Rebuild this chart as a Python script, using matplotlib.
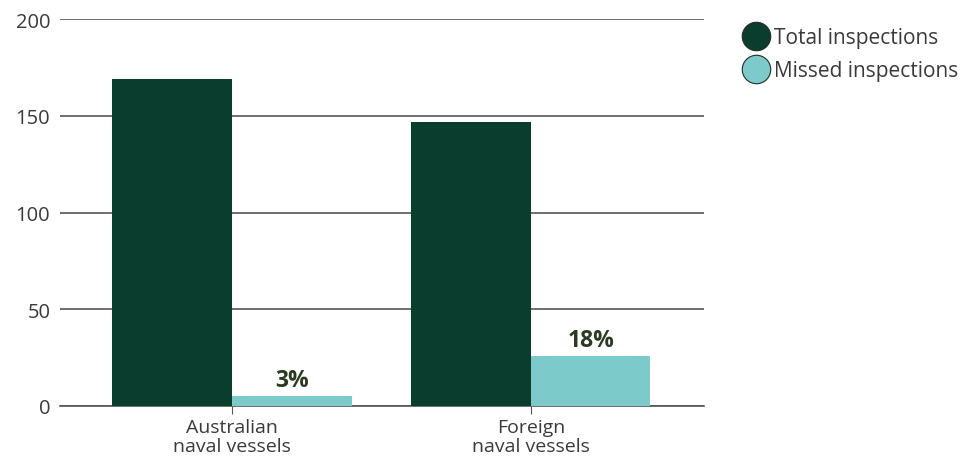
import numpy as np
import matplotlib
matplotlib.use("Agg")
from matplotlib import pyplot as plt
from matplotlib.lines import Line2D

categories = ['Australian\nnaval vessels', 'Foreign\nnaval vessels']
total = [169, 147]
missed = [5, 26]
missed_pct = ['3%', '18%']
series = ['Total inspections', 'Missed inspections']

DARK = '#0a3d2e'
TEAL = '#7ccbca'
GRID = '#555555'
TEXT = '#3a3a3a'

plt.rcParams['font.family'] = ['Open Sans', 'DejaVu Sans']

fig = plt.figure(figsize=(9.71, 4.64), dpi=100)
ax = fig.add_axes([60 / 971, 57 / 464, 644 / 971, 387 / 464])

x = np.arange(len(categories))
w = 0.4
ax.bar(x - w / 2, total, w, color=DARK, zorder=3)
bars = ax.bar(x + w / 2, missed, w, color=TEAL, zorder=3)

for b, lab in zip(bars, missed_pct):
    ax.annotate(lab, (b.get_x() + b.get_width() / 2, b.get_height()),
                xytext=(0, 3), textcoords='offset points',
                ha='center', va='bottom', fontsize=16.5, fontweight='bold',
                color='#2b3a22')

ax.set_ylim(0, 200)
ax.set_xlim(-0.575, 1.579)
ax.set_yticks([0, 50, 100, 150, 200])
ax.yaxis.grid(True, color=GRID, linewidth=1.2, zorder=0)
ax.tick_params(axis='y', length=0, pad=7, labelsize=14.5, labelcolor=TEXT)
ax.set_xticks(x)
ax.set_xticklabels(categories, fontsize=14, color=TEXT, linespacing=1.05)
ax.tick_params(axis='x', length=6, color=GRID, pad=3)
for s in ['left', 'right', 'top']:
    ax.spines[s].set_visible(False)
ax.spines['bottom'].set_color(GRID)
ax.spines['bottom'].set_linewidth(1.2)

handles = [Line2D([], [], marker='o', linestyle='none', markersize=20.5,
                  markerfacecolor=c, markeredgecolor='#1e2e28', markeredgewidth=0.8)
           for c in [DARK, TEAL]]
fig.legend(handles, series, loc='upper left', bbox_to_anchor=(743 / 971, 1 - 28 / 464),
           frameon=False, fontsize=15, handletextpad=0.3, labelspacing=0.6,
           borderaxespad=0, borderpad=0, labelcolor=TEXT, handlelength=1.2)

fig.savefig('out.png', dpi=100)
